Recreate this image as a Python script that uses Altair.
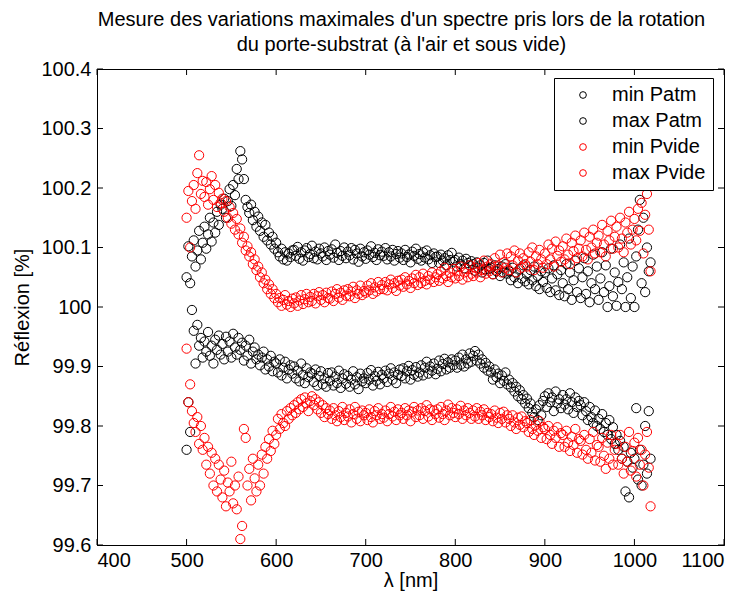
import altair as alt
import pandas as pd

WL = list(range(500, 1019, 2))

max_patm = [
    100.050, 100.102, 100.040, 100.085, 100.112, 100.068, 100.095, 100.128, 100.080, 100.108,
    100.135, 100.098, 100.122, 100.150, 100.110, 100.142, 100.125, 100.160, 100.138, 100.172,
    100.165, 100.182, 100.150, 100.178, 100.198, 100.170, 100.205, 100.188, 100.232, 100.215,
    100.262, 100.248, 100.215, 100.180, 100.168, 100.158, 100.172, 100.146, 100.160, 100.135,
    100.152, 100.128, 100.142, 100.118, 100.138, 100.112, 100.125, 100.105, 100.118, 100.098,
    100.108, 100.092, 100.085, 100.098, 100.080, 100.092, 100.078, 100.090, 100.084, 100.095,
    100.096, 100.086, 100.101, 100.081, 100.092, 100.078, 100.095, 100.099, 100.084, 100.089,
    100.103, 100.082, 100.093, 100.080, 100.098, 100.090, 100.085, 100.100, 100.079, 100.094,
    100.088, 100.097, 100.083, 100.105, 100.091, 100.079, 100.094, 100.086, 100.100, 100.082,
    100.093, 100.087, 100.099, 100.080, 100.096, 100.090, 100.076, 100.098, 100.085, 100.092,
    100.081, 100.095, 100.088, 100.102, 100.084, 100.091, 100.079, 100.097, 100.087, 100.093,
    100.086, 100.099, 100.080, 100.092, 100.085, 100.096, 100.078, 100.089, 100.094, 100.083,
    100.090, 100.079, 100.096, 100.084, 100.088, 100.075, 100.093, 100.086, 100.098, 100.081,
    100.089, 100.078, 100.092, 100.083, 100.095, 100.080, 100.087, 100.074, 100.090, 100.084,
    100.085, 100.074, 100.088, 100.078, 100.082, 100.070, 100.087, 100.079, 100.091, 100.076,
    100.079, 100.068, 100.083, 100.072, 100.078, 100.065, 100.081, 100.074, 100.070, 100.077,
    100.072, 100.061, 100.075, 100.066, 100.070, 100.058, 100.074, 100.063, 100.078, 100.064,
    100.066, 100.055, 100.070, 100.060, 100.064, 100.052, 100.068, 100.058, 100.072, 100.056,
    100.060, 100.045, 100.066, 100.050, 100.058, 100.040, 100.064, 100.048, 100.070, 100.043,
    100.055, 100.038, 100.062, 100.045, 100.068, 100.035, 100.052, 100.030, 100.060, 100.042,
    100.058, 100.032, 100.065, 100.025, 100.048, 100.070, 100.028, 100.055, 100.020, 100.062,
    100.040, 100.018, 100.072, 100.030, 100.058, 100.012, 100.045, 100.078, 100.025, 100.065,
    100.015, 100.050, 100.082, 100.022, 100.060, 100.008, 100.040, 100.088, 100.030, 100.068,
    100.012, 100.048, 100.092, 100.025, 100.070, 100.000, 100.035, 100.098, 100.018, 100.058,
    100.002, 100.042, 100.105, 100.030, 100.075, 100.000, 100.050, 100.115, 100.015, 100.068,
    100.000, 100.085, 100.130, 100.180, 100.040, 100.150, 100.025, 100.100, 100.060, 100.075,
]

min_patm = [
    99.760, 99.840, 99.790, 99.995, 99.960, 99.905, 99.970, 99.935, 99.948, 99.915,
    99.942, 99.925, 99.958, 99.918, 99.935, 99.905, 99.945, 99.928, 99.952, 99.920,
    99.938, 99.912, 99.950, 99.925, 99.942, 99.915, 99.955, 99.932, 99.920, 99.948,
    99.928, 99.940, 99.910, 99.935, 99.918, 99.945, 99.905, 99.925, 99.932, 99.912,
    99.920, 99.902, 99.915, 99.925, 99.895, 99.912, 99.900, 99.918, 99.892, 99.908,
    99.905, 99.890, 99.912, 99.885, 99.898, 99.908, 99.880, 99.895, 99.902, 99.888,
    99.900, 99.880, 99.893, 99.875, 99.905, 99.886, 99.872, 99.897, 99.882, 99.890,
    99.888, 99.874, 99.895, 99.868, 99.884, 99.892, 99.870, 99.880, 99.866, 99.889,
    99.876, 99.890, 99.868, 99.883, 99.872, 99.893, 99.864, 99.880, 99.887, 99.871,
    99.884, 99.866, 99.878, 99.892, 99.870, 99.882, 99.862, 99.888, 99.875, 99.880,
    99.872, 99.889, 99.878, 99.894, 99.868, 99.884, 99.876, 99.891, 99.870, 99.886,
    99.880, 99.893, 99.874, 99.888, 99.897, 99.878, 99.890, 99.872, 99.886, 99.895,
    99.884, 99.897, 99.880, 99.892, 99.901, 99.878, 99.894, 99.886, 99.899, 99.883,
    99.890, 99.902, 99.885, 99.898, 99.908, 99.888, 99.900, 99.893, 99.905, 99.887,
    99.896, 99.910, 99.892, 99.904, 99.913, 99.895, 99.907, 99.898, 99.912, 99.902,
    99.910, 99.898, 99.915, 99.903, 99.920, 99.900, 99.912, 99.905, 99.922, 99.908,
    99.918, 99.926, 99.910, 99.920, 99.905, 99.912, 99.898, 99.906, 99.893, 99.900,
    99.890, 99.878, 99.895, 99.882, 99.888, 99.872, 99.885, 99.876, 99.890, 99.870,
    99.878, 99.865, 99.872, 99.858, 99.866, 99.850, 99.860, 99.845, 99.852, 99.838,
    99.846, 99.830, 99.838, 99.822, 99.815, 99.828, 99.810, 99.835, 99.818, 99.842,
    99.850, 99.832, 99.855, 99.840, 99.848, 99.825, 99.858, 99.838, 99.845, 99.830,
    99.852, 99.836, 99.845, 99.828, 99.855, 99.840, 99.822, 99.848, 99.832, 99.842,
    99.835, 99.818, 99.840, 99.825, 99.810, 99.832, 99.815, 99.805, 99.826, 99.800,
    99.812, 99.795, 99.820, 99.790, 99.805, 99.785, 99.810, 99.778, 99.798, 99.770,
    99.785, 99.760, 99.775, 99.745, 99.765, 99.690, 99.740, 99.680, 99.755, 99.730,
    99.745, 99.830, 99.710, 99.760, 99.700, 99.735, 99.800, 99.720, 99.825, 99.745,
]

max_pvide = [
    100.150, 100.195, 100.100, 100.178, 100.205, 100.165, 100.225, 100.255, 100.190, 100.212,
    100.185, 100.210, 100.172, 100.198, 100.220, 100.180, 100.205, 100.168, 100.192, 100.175,
    100.182, 100.160, 100.178, 100.150, 100.168, 100.140, 100.158, 100.130, 100.148, 100.122,
    100.132, 100.108, 100.118, 100.095, 100.102, 100.085, 100.092, 100.072, 100.080, 100.062,
    100.068, 100.050, 100.058, 100.040, 100.046, 100.030, 100.038, 100.022, 100.030, 100.015,
    100.022, 100.008, 100.015, 100.002, 100.012, 100.020, 100.004, 100.010, 100.000, 100.014,
    100.006, 100.016, 100.002, 100.011, 100.020, 100.005, 100.013, 100.022, 100.008, 100.017,
    100.010, 100.022, 100.006, 100.018, 100.025, 100.012, 100.020, 100.008, 100.024, 100.015,
    100.014, 100.026, 100.010, 100.022, 100.030, 100.016, 100.024, 100.012, 100.028, 100.019,
    100.030, 100.018, 100.026, 100.034, 100.015, 100.028, 100.022, 100.036, 100.020, 100.027,
    100.024, 100.036, 100.028, 100.040, 100.022, 100.033, 100.026, 100.042, 100.030, 100.037,
    100.030, 100.042, 100.028, 100.038, 100.046, 100.032, 100.040, 100.027, 100.044, 100.036,
    100.046, 100.034, 100.050, 100.038, 100.044, 100.032, 100.048, 100.040, 100.054, 100.037,
    100.050, 100.040, 100.056, 100.044, 100.038, 100.052, 100.046, 100.058, 100.042, 100.050,
    100.055, 100.044, 100.060, 100.048, 100.066, 100.052, 100.042, 100.058, 100.050, 100.064,
    100.048, 100.060, 100.052, 100.068, 100.046, 100.058, 100.064, 100.050, 100.070, 100.056,
    100.052, 100.066, 100.058, 100.074, 100.050, 100.062, 100.078, 100.056, 100.068, 100.060,
    100.072, 100.055, 100.082, 100.062, 100.070, 100.088, 100.058, 100.075, 100.066, 100.090,
    100.062, 100.085, 100.070, 100.095, 100.058, 100.078, 100.090, 100.066, 100.082, 100.072,
    100.068, 100.092, 100.076, 100.100, 100.062, 100.085, 100.072, 100.096, 100.080, 100.066,
    100.090, 100.072, 100.105, 100.080, 100.098, 100.068, 100.110, 100.086, 100.095, 100.076,
    100.102, 100.080, 100.115, 100.088, 100.072, 100.108, 100.094, 100.120, 100.082, 100.098,
    100.112, 100.085, 100.125, 100.096, 100.080, 100.118, 100.100, 100.130, 100.090, 100.108,
    100.120, 100.092, 100.138, 100.105, 100.085, 100.128, 100.112, 100.145, 100.098, 100.118,
    100.135, 100.100, 100.150, 100.115, 100.092, 100.142, 100.125, 100.160, 100.105, 100.130,
    100.148, 100.112, 100.165, 100.128, 100.175, 100.090, 100.155, 100.190, 100.130, 100.060,
]

min_pvide = [
    99.930, 99.840, 99.870, 99.825, 99.805, 99.790, 99.815, 99.770, 99.800, 99.760,
    99.780, 99.735, 99.765, 99.720, 99.755, 99.700, 99.745, 99.690, 99.735, 99.710,
    99.680, 99.725, 99.665, 99.705, 99.690, 99.740, 99.670, 99.700, 99.660, 99.715,
    99.610, 99.632, 99.795, 99.780, 99.700, 99.728, 99.675, 99.745, 99.712, 99.690,
    99.735, 99.700, 99.752, 99.720, 99.765, 99.745, 99.778, 99.758, 99.792, 99.770,
    99.785, 99.812, 99.795, 99.820, 99.805, 99.800, 99.825, 99.812, 99.830, 99.818,
    99.835, 99.822, 99.840, 99.828, 99.845, 99.832, 99.848, 99.838, 99.825, 99.842,
    99.850, 99.835, 99.845, 99.828, 99.840, 99.822, 99.835, 99.815, 99.830, 99.820,
    99.826, 99.812, 99.830, 99.818, 99.808, 99.825, 99.815, 99.832, 99.810, 99.822,
    99.816, 99.828, 99.806, 99.820, 99.832, 99.812, 99.824, 99.808, 99.826, 99.818,
    99.822, 99.810, 99.828, 99.815, 99.806, 99.825, 99.818, 99.830, 99.812, 99.820,
    99.814, 99.826, 99.808, 99.820, 99.832, 99.816, 99.824, 99.810, 99.828, 99.818,
    99.822, 99.812, 99.830, 99.818, 99.826, 99.808, 99.824, 99.832, 99.815, 99.826,
    99.818, 99.830, 99.812, 99.825, 99.835, 99.816, 99.828, 99.810, 99.826, 99.820,
    99.828, 99.814, 99.832, 99.820, 99.810, 99.826, 99.836, 99.818, 99.830, 99.822,
    99.815, 99.828, 99.820, 99.834, 99.812, 99.826, 99.818, 99.830, 99.822, 99.812,
    99.826, 99.816, 99.830, 99.812, 99.824, 99.818, 99.828, 99.810, 99.822, 99.815,
    99.820, 99.808, 99.826, 99.814, 99.805, 99.822, 99.812, 99.824, 99.806, 99.818,
    99.812, 99.800, 99.818, 99.806, 99.795, 99.814, 99.802, 99.816, 99.798, 99.808,
    99.805, 99.790, 99.810, 99.795, 99.785, 99.802, 99.792, 99.808, 99.780, 99.798,
    99.795, 99.778, 99.800, 99.785, 99.770, 99.792, 99.780, 99.798, 99.765, 99.788,
    99.785, 99.765, 99.792, 99.772, 99.758, 99.782, 99.768, 99.795, 99.755, 99.778,
    99.775, 99.752, 99.785, 99.760, 99.745, 99.778, 99.755, 99.790, 99.742, 99.768,
    99.765, 99.740, 99.780, 99.750, 99.728, 99.772, 99.745, 99.785, 99.735, 99.760,
    99.770, 99.735, 99.785, 99.745, 99.720, 99.765, 99.740, 99.790, 99.725, 99.758,
    99.772, 99.715, 99.780, 99.735, 99.760, 99.700, 99.752, 99.790, 99.730, 99.665,
]

SERIES = ["min Patm", "max Patm", "min Pvide", "max Pvide"]
COLORS = ["#000000", "#000000", "#ff0000", "#ff0000"]
X_TICKS = [400, 500, 600, 700, 800, 900, 1000, 1100]
Y_TICKS = [99.6, 99.7, 99.8, 99.9, 100.0, 100.1, 100.2, 100.3, 100.4]

rows = []
for name, vals in zip(SERIES, [min_patm, max_patm, min_pvide, max_pvide]):
    for w, v in zip(WL, vals):
        rows.append({"wl": w, "R": v, "series": name})
df = pd.DataFrame(rows)
df["ord"] = range(len(df))

FONT = "Liberation Sans"
FS = 20
W, H = 627, 476
TL = 6

xs = alt.Scale(domain=[400, 1100], nice=False, zero=False)
ys = alt.Scale(domain=[99.6, 100.4], nice=False, zero=False)
xaxis = alt.Axis(values=X_TICKS, format="d", title="λ [nm]", labelPadding=5, titlePadding=0,
                 grid=False, ticks=False, labelFontSize=FS, titleFontSize=FS,
                 labelFont=FONT, titleFont=FONT, titleFontWeight="normal",
                 labelColor="black", titleColor="black", domainColor="black")
yaxis = alt.Axis(values=Y_TICKS, format=".4~g", title="Réflexion [%]", labelPadding=6, titlePadding=8,
                 grid=False, ticks=False, labelFontSize=FS, titleFontSize=FS,
                 labelFont=FONT, titleFont=FONT, titleFontWeight="normal",
                 labelColor="black", titleColor="black", domainColor="black")

points = alt.Chart(df).mark_point(
    shape="circle", filled=False, size=85, strokeWidth=1, opacity=1
).encode(
    x=alt.X("wl:Q", scale=xs, axis=xaxis),
    y=alt.Y("R:Q", scale=ys, axis=yaxis),
    color=alt.Color(
        "series:N",
        scale=alt.Scale(domain=SERIES, range=COLORS),
        legend=alt.Legend(
            title=None, orient="none", legendX=457, legendY=9,
            fillColor="white", strokeColor="black", padding=7,
            symbolType="circle", symbolSize=45, symbolStrokeWidth=1,
            symbolOffset=12, labelOffset=19, rowPadding=6,
            labelFontSize=FS, labelFont=FONT, labelColor="black",
            cornerRadius=0,
        ),
    ),
    order=alt.Order("ord:Q"),
)

xt = pd.DataFrame({"wl": X_TICKS})
yt = pd.DataFrame({"R": Y_TICKS})
tick_bottom = alt.Chart(xt).mark_rule(color="black", strokeWidth=1).encode(
    x=alt.X("wl:Q", scale=xs, axis=xaxis), y=alt.value(H), y2=alt.value(H - TL))
tick_top = alt.Chart(xt).mark_rule(color="black", strokeWidth=1).encode(
    x=alt.X("wl:Q", scale=xs, axis=xaxis), y=alt.value(0), y2=alt.value(TL))
tick_left = alt.Chart(yt).mark_rule(color="black", strokeWidth=1).encode(
    y=alt.Y("R:Q", scale=ys, axis=yaxis), x=alt.value(0), x2=alt.value(TL))
tick_right = alt.Chart(yt).mark_rule(color="black", strokeWidth=1).encode(
    y=alt.Y("R:Q", scale=ys, axis=yaxis), x=alt.value(W), x2=alt.value(W - TL))

chart = alt.layer(points, tick_bottom, tick_top, tick_left, tick_right).properties(
    width=W, height=H,
    background="white",
    autosize=alt.AutoSizeParams(type="none"),
    padding={"left": 89, "top": 61, "right": 16, "bottom": 48},
    title=alt.TitleParams(
        ["Mesure des variations maximales d'un spectre pris lors de la rotation",
         "du porte-substrat (à l'air et sous vide)"],
        fontSize=FS, font=FONT, fontWeight="normal", color="black",
        anchor="middle", offset=4, lineHeight=25, dx=-9,
    ),
).configure_view(
    stroke="black", strokeWidth=1
).configure_axis(
    grid=False, ticks=False, tickSize=0, domainWidth=1,
)

chart.save("out.html", embed_options={"renderer": "svg", "actions": False})
